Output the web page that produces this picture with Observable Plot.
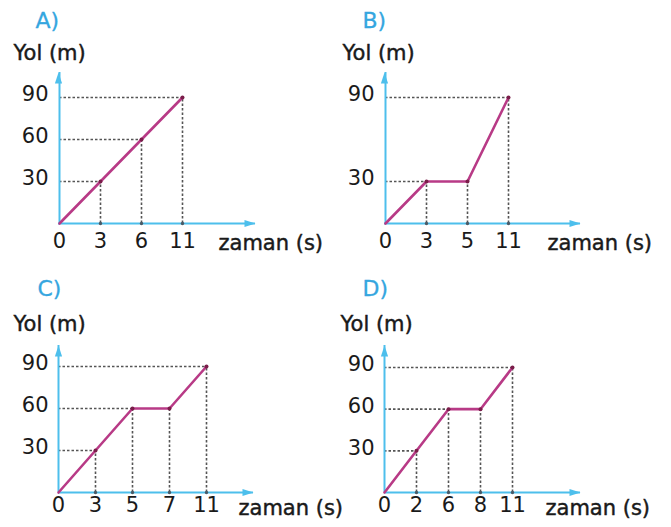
<!DOCTYPE html>
<html><head><meta charset="utf-8">
<script src="https://cdn.jsdelivr.net/npm/d3@7"></script>
<script src="https://cdn.jsdelivr.net/npm/@observablehq/plot@0.6"></script>
<style>
html,body{margin:0;padding:0;background:#fff;}
#root{position:relative;width:671px;height:527px;overflow:hidden;background:#fff;}
.cell{position:absolute;}
</style></head><body><div id="root"></div>
<script>
// ---- data ----
const titles = ["A)", "B)", "C)", "D)"];
const yLabel = "Yol (m)";
const xLabel = "zaman (s)";

const xTicksA = [0, 3, 6, 11];
const timeA = [0, 3, 6, 11];
const yolA = [0, 30, 60, 90];
const yTicksA = [30, 60, 90];

const xTicksB = [0, 3, 5, 11];
const timeB = [0, 3, 5, 11];
const yolB = [0, 30, 30, 90];
const yTicksB = [30, 90];

const xTicksC = [0, 3, 5, 7, 11];
const timeC = [0, 3, 5, 7, 11];
const yolC = [0, 30, 60, 60, 90];
const yTicksC = [30, 60, 90];

const xTicksD = [0, 2, 6, 8, 11];
const timeD = [0, 2, 6, 8, 11];
const yolD = [0, 30, 60, 60, 90];
const yTicksD = [30, 60, 90];

// ---- layout (not data) ----
const layouts = [
  {left: 0,   top: 0,   h: 263, xr: [58, 183], tip: 255, y0: 223, y90: 97,  ytop: 72, zdx: -37, zdy: 20, ydx: -45, ydy: -19, tdx: -23, tdy: -52, pad: 10},
  {left: 335, top: 0,   h: 263, xr: [49, 173], tip: 245, y0: 223, y90: 97,  ytop: 72, zdx: -33, zdy: 20, ydx: -42, ydy: -19, tdx: -22, tdy: -52, pad: 10},
  {left: 0,   top: 263, h: 264, xr: [58, 206], tip: 253, y0: 229, y90: 103, ytop: 82, zdx: -15, zdy: 16, ydx: -45, ydy: -21, tdx: -21, tdy: -57, pad: 5},
  {left: 335, top: 263, h: 264, xr: [49, 177], tip: 245, y0: 229, y90: 104, ytop: 82, zdx: -35, zdy: 16, ydx: -44, ydy: -21, tdx: -22, tdy: -57, pad: 5}
];

const axisColor = "#4dbfec";
const lineColor = "#b83a86";
const titleColor = "#35a6df";
const guideColor = "#555";
const textColor = "#1a1a1a";

const arrowSym = {draw(ctx) { ctx.moveTo(0, -6); ctx.lineTo(3.6, 5); ctx.lineTo(-3.6, 5); ctx.closePath(); }};

function panel(title, xTicks, time, yol, yTicks, L) {
  const pts = time.map((x, i) => ({x, y: yol[i]}));
  const seen = new Set();
  const hGuides = pts.filter(p => p.y > 0 && !seen.has(p.y) && (seen.add(p.y), true));
  const vGuides = pts.filter(p => p.x > 0);
  const heavy = {stroke: textColor, strokeWidth: 0.45};
  return Plot.plot({
    width: 335, height: L.h,
    marginLeft: L.xr[0], marginRight: 335 - L.tip, marginTop: L.ytop, marginBottom: L.h - L.y0,
    style: {fontFamily: "DejaVu Sans", fontSize: "21px", overflow: "visible", background: "transparent", color: textColor},
    x: {type: "point", domain: xTicks, range: L.xr, padding: 0, axis: null, label: null},
    y: {type: "linear", domain: [0, 90], range: [L.y0, L.y90], axis: null, label: null},
    marks: [
      Plot.ruleY(hGuides, {y: "y", x1: 0, x2: "x", stroke: guideColor, strokeWidth: 1.6, strokeDasharray: "2.5,2"}),
      Plot.ruleX(vGuides, {x: "x", y1: 0, y2: "y", stroke: guideColor, strokeWidth: 1.6, strokeDasharray: "2.5,2"}),
      Plot.ruleX([0], {stroke: axisColor, strokeWidth: 2}),
      Plot.ruleY([0], {stroke: axisColor, strokeWidth: 2}),
      Plot.dot([0], {frameAnchor: "top-left", symbol: arrowSym, fill: axisColor, stroke: null, dy: 6}),
      Plot.dot([0], {frameAnchor: "bottom-right", symbol: arrowSym, rotate: 90, fill: axisColor, stroke: null, dx: -6}),
      Plot.dot(vGuides, {x: "x", y: () => 0, r: 1.7, fill: "#4a5a66", stroke: null}),
      Plot.line(pts, {x: "x", y: "y", stroke: lineColor, strokeWidth: 2.6}),
      Plot.dot(pts.slice(1), {x: "x", y: "y", r: 2, fill: "#7b1d4a", stroke: null}),
      Plot.axisX(xTicks, {tickSize: 0, tickPadding: L.pad, label: null, fontSize: 21, fill: textColor, ...heavy}),
      Plot.axisY(yTicks, {tickSize: 0, tickPadding: 10, label: null, fontSize: 21, fill: textColor, dy: -3, ...heavy}),
      Plot.text([xLabel], {frameAnchor: "bottom-right", text: d => d, textAnchor: "start", lineAnchor: "middle", dx: L.zdx, dy: L.zdy, fontSize: 21, fill: textColor, ...heavy}),
      Plot.text([yLabel], {frameAnchor: "top-left", text: d => d, textAnchor: "start", lineAnchor: "middle", dx: L.ydx, dy: L.ydy, fontSize: 21, fill: textColor, ...heavy}),
      Plot.text([title], {frameAnchor: "top-left", text: d => d, textAnchor: "start", lineAnchor: "middle", dx: L.tdx, dy: L.tdy, fontSize: 22, fill: titleColor, stroke: titleColor, strokeWidth: 0.3})
    ]
  });
}

const root = document.getElementById("root");
const specs = [
  [titles[0], xTicksA, timeA, yolA, yTicksA],
  [titles[1], xTicksB, timeB, yolB, yTicksB],
  [titles[2], xTicksC, timeC, yolC, yTicksC],
  [titles[3], xTicksD, timeD, yolD, yTicksD]
];
specs.forEach((s, i) => {
  const L = layouts[i];
  const div = document.createElement("div");
  div.className = "cell";
  div.style.left = L.left + "px";
  div.style.top = L.top + "px";
  div.appendChild(panel(...s, L));
  root.appendChild(div);
});
</script>
</body></html>
